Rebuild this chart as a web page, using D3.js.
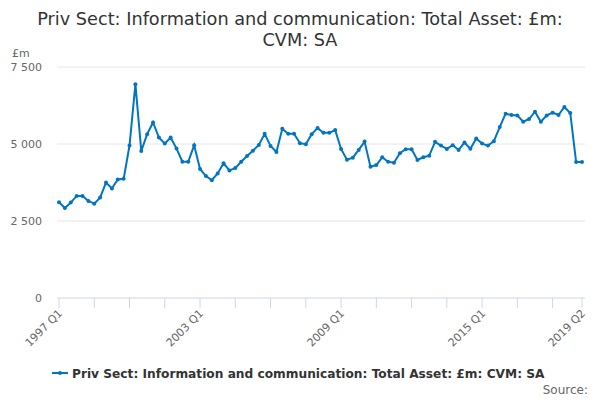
<!DOCTYPE html>
<meta charset="utf-8">
<head>
  <title>priv-sect-info-comm</title>
</head>
<style>
  body { margin: 0; }
  svg { font-family: "DejaVu Sans", sans-serif; }
</style>
<body>
  <svg width="600" height="400"></svg>

  <script src="https://cdnjs.cloudflare.com/ajax/libs/d3/7.8.5/d3.min.js"></script>
  <script>
    var width = 600,
      height = 400;
    var margin = { top: 67, right: 18, bottom: 102, left: 59 };

    var firstYear = 1997;
    var tickLabels = ['1997 Q1', '2003 Q1', '2009 Q1', '2015 Q1', '2019 Q2'];
    var yTicks = [0, 2500, 5000, 7500];

    // quarterly values, 1997 Q1 .. 2019 Q2
    var values = [
      3106, 2920, 3097, 3313, 3313, 3150, 3064, 3260, 3750, 3555,
      3850, 3870, 4950, 6942, 4774, 5320, 5700, 5210, 5013, 5210,
      4850, 4424, 4424, 4960, 4190, 3957, 3826, 4045, 4372, 4143,
      4218, 4424, 4610, 4784, 4970, 5330, 4938, 4742, 5494, 5330,
      5330, 5026, 4993, 5320, 5516, 5363, 5363, 5451, 4840, 4490,
      4555, 4807, 5078, 4261, 4316, 4568, 4424, 4392, 4699, 4830,
      4830, 4480, 4568, 4620, 5069, 4948, 4840, 4960, 4807, 5046,
      4845, 5177, 5013, 4948, 5091, 5550, 5984, 5942, 5929, 5723,
      5811, 6050, 5723, 5929, 6017, 5942, 6203, 6007, 4415, 4415
    ];

    var data = values.map(function(v, i) {
      return {
        label: (firstYear + Math.floor(i / 4)) + ' Q' + (i % 4 + 1),
        i: i,
        value: v
      };
    });

    var svg = d3.select('svg');
    var color = '#0075c2';

    var x = d3.scaleLinear()
      .domain([0, values.length - 1])
      .range([margin.left, width - margin.right]);

    var y = d3.scaleLinear()
      .domain([0, 7500])
      .range([height - margin.bottom, margin.top]);

    // title
    svg.append('text')
      .attr('x', width / 2).attr('y', 25)
      .attr('text-anchor', 'middle')
      .style('font-size', '17.7px').style('fill', '#333')
      .text('Priv Sect: Information and communication: Total Asset: £m:');
    svg.append('text')
      .attr('x', width / 2).attr('y', 46)
      .attr('text-anchor', 'middle')
      .style('font-size', '17.7px').style('fill', '#333')
      .text('CVM: SA');

    svg.append('text')
      .attr('x', 12).attr('y', 57)
      .style('font-size', '11px').style('fill', '#666')
      .text('£m');

    // gridlines + y labels
    var fmt = function(d) { return d3.format(',')(d).replace(',', ' '); };
    var grid = svg.append('g');
    grid.selectAll('line')
      .data(yTicks.filter(function(d) { return d > 0; }))
      .enter().append('line')
      .attr('x1', 57).attr('x2', width - 15)
      .attr('y1', function(d) { return y(d); })
      .attr('y2', function(d) { return y(d); })
      .style('stroke', '#e6e6e6');

    svg.append('g').selectAll('text')
      .data(yTicks)
      .enter().append('text')
      .attr('x', 42)
      .attr('y', function(d) { return y(d) + 4; })
      .attr('text-anchor', 'end')
      .style('font-size', '11px').style('fill', '#666')
      .text(fmt);

    // x axis
    var xAxis = svg.append('g')
      .attr('transform', 'translate(0,' + (height - margin.bottom) + ')');
    xAxis.append('line')
      .attr('x1', 57).attr('x2', width - 15)
      .style('stroke', '#ccd6eb');

    var tickIdx = d3.range(0, values.length, 6).concat([values.length - 1]);
    xAxis.selectAll('.tick')
      .data(tickIdx)
      .enter().append('line')
      .attr('x1', function(d) { return x(d); })
      .attr('x2', function(d) { return x(d); })
      .attr('y1', 0).attr('y2', 10)
      .style('stroke', '#ccd6eb');

    var labelIdx = tickLabels.map(function(t) {
      return data.findIndex(function(d) { return d.label === t; });
    });
    xAxis.selectAll('.lbl')
      .data(labelIdx)
      .enter().append('text')
      .attr('transform', function(d) {
        return 'translate(' + (x(d) + 4) + ',16) rotate(-45)';
      })
      .attr('text-anchor', 'end')
      .style('font-size', '11px').style('fill', '#666')
      .text(function(d, i) { return tickLabels[i]; });

    // line
    var line = d3.line()
      .x(function(d) { return x(d.i); })
      .y(function(d) { return y(d.value); });

    svg.append('path')
      .datum(data)
      .attr('d', line)
      .style('fill', 'none')
      .style('stroke', color)
      .style('stroke-width', 2);

    svg.append('g').selectAll('circle')
      .data(data)
      .enter().append('circle')
      .attr('cx', function(d) { return x(d.i); })
      .attr('cy', function(d) { return y(d.value); })
      .attr('r', 2)
      .style('fill', color);

    // legend
    var leg = svg.append('g').attr('transform', 'translate(52,373)');
    leg.append('line')
      .attr('x1', 0).attr('x2', 16)
      .style('stroke', color).style('stroke-width', 2);
    leg.append('circle').attr('cx', 8).attr('r', 2).style('fill', color);
    leg.append('text')
      .attr('x', 20).attr('y', 4.5)
      .style('font-size', '12.2px').style('font-weight', 'bold').style('fill', '#333')
      .text('Priv Sect: Information and communication: Total Asset: £m: CVM: SA');

    svg.append('text')
      .attr('x', 588).attr('y', 394)
      .attr('text-anchor', 'end')
      .style('font-size', '12px').style('fill', '#666')
      .text('Source:');
  </script>
</body>
</html>
